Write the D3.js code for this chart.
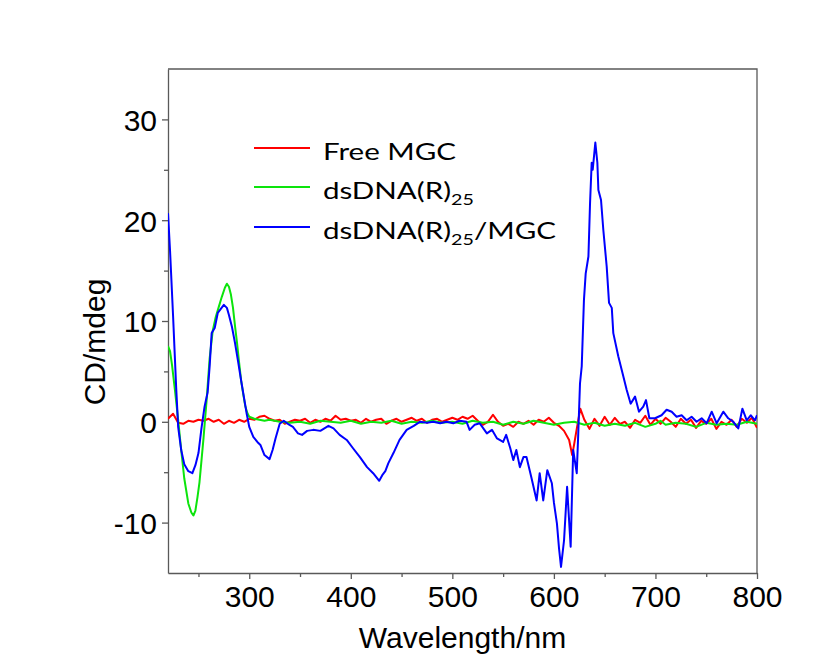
<!DOCTYPE html>
<html>
<head>
<meta charset="utf-8">
<script src="https://cdn.jsdelivr.net/npm/d3@7"></script>
<style>
  html, body { margin: 0; padding: 0; background: #fff; }
  svg { display: block; }
</style>
</head>
<body>
<svg id="chart"></svg>
<script>
// wavelength (nm) / CD (mdeg) pairs
var freeMGC = [
  [220,0.3],[225,0.8],[230,-0.1],[235,-0.2],[240,0.1],[245,0.0],[250,0.2],[255,0.1],[260,0.3],[265,0.0],
  [270,0.2],[275,-0.2],[280,0.1],[285,-0.1],[290,0.2],[295,0.0],[300,0.3],[305,0.2],[310,0.5],[315,0.6],
  [320,0.3],[325,0.1],[330,0.2],[335,-0.2],[340,0.0],[345,0.2],[350,0.1],[355,0.3],[360,-0.1],[365,0.2],
  [370,0.0],[375,0.3],[380,0.1],[385,0.6],[390,0.2],[395,0.3],[400,0.1],[405,0.2],[410,-0.1],[415,0.3],
  [420,0.0],[425,0.2],[430,0.3],[435,-0.2],[440,0.1],[445,0.3],[450,0.0],[455,0.2],[460,0.4],[465,0.1],
  [470,0.3],[475,-0.1],[480,0.2],[485,0.3],[490,0.0],[495,0.2],[500,0.4],[505,0.2],[510,0.5],[515,0.3],
  [520,0.6],[525,0.1],[530,-0.3],[535,0.0],[540,0.7],[545,0.0],[550,-0.4],[555,-0.2],[560,-0.5],[565,0.0],
  [570,-0.2],[575,0.1],[580,-0.3],[585,0.2],[590,0.0],[595,0.4],[600,-0.1],[605,-0.4],[610,-0.9],[615,-1.8],
  [618,-3.3],[620,-2.2],[623,-0.4],[626,1.3],[630,0.2],[635,-0.7],[640,0.3],[645,-0.4],[650,0.5],[655,-0.3],
  [660,0.4],[665,-0.2],[670,0.0],[675,-0.6],[680,0.2],[685,-0.1],[690,0.6],[695,-0.3],[700,0.3],[705,-0.2],
  [710,0.4],[715,0.0],[720,-0.5],[725,0.3],[730,-0.2],[735,0.2],[740,-0.6],[745,0.1],[750,-0.2],[755,0.3],
  [760,-0.7],[765,0.0],[770,-0.3],[775,0.2],[780,-0.5],[785,0.3],[790,-0.1],[795,0.4],[800,-0.6]
];

var dsDNA = [
  [220,7.5],[222,7.0],[224,5.6],[227,3.0],[230,0.2],[233,-2.8],[236,-5.6],[240,-8.1],[243,-9.0],[245,-9.3],
  [247,-8.8],[249,-7.5],[251,-6.0],[253,-3.8],[255,-1.6],[258,2.1],[261,6.3],[264,9.0],[267,10.4],[270,11.4],
  [273,12.4],[276,13.3],[278,13.7],[280,13.4],[282,12.6],[284,11.3],[286,9.5],[288,7.8],[290,5.9],[292,4.1],
  [294,2.8],[296,1.6],[298,0.9],[300,0.5],[305,0.3],[310,0.2],[315,0.1],[320,0.2],[330,0.0],[340,-0.1],
  [350,0.0],[360,-0.2],[370,0.1],[380,0.0],[390,-0.1],[400,0.1],[410,-0.2],[420,0.0],[430,-0.1],[440,0.1],
  [450,-0.2],[460,0.0],[470,-0.1],[480,0.1],[490,-0.1],[500,0.0],[510,-0.2],[520,0.1],[530,-0.1],[540,0.0],
  [550,-0.3],[560,0.0],[570,-0.2],[580,0.1],[590,-0.1],[600,-0.3],[610,-0.1],[620,0.0],[630,-0.3],[640,-0.1],
  [650,-0.4],[660,-0.2],[670,-0.4],[680,-0.1],[690,-0.5],[700,-0.2],[705,0.1],[710,-0.3],[720,-0.1],[730,-0.2],
  [740,-0.5],[750,-0.1],[760,-0.3],[770,-0.2],[780,-0.3],[790,0.0],[800,-0.2]
];

var dsDNA_MGC = [
  [220,20.7],[222,17.0],[225,10.5],[228,3.5],[230,-0.5],[233,-2.8],[236,-4.2],[240,-4.9],[244,-5.1],[247,-4.3],
  [250,-3.1],[253,-0.6],[256,1.5],[259,2.9],[261,5.5],[263,8.8],[266,9.3],[269,10.8],[272,11.2],[275,11.6],
  [278,11.3],[280,10.6],[283,9.4],[286,7.8],[289,6.0],[292,4.1],[295,2.3],[297.5,0.8],[300,-0.5],[304,-1.5],
  [308,-2.0],[311,-2.3],[315,-3.3],[320,-3.7],[323,-2.8],[326,-1.6],[330,-0.2],[334,0.1],[338,-0.2],[343,-0.5],
  [348,-1.15],[352,-1.3],[357,-0.9],[363,-0.8],[370,-0.9],[378,-0.4],[383,-0.65],[389,-1.3],[396,-1.8],[402,-2.6],
  [409,-3.5],[416,-4.5],[422,-5.1],[428,-5.85],[431,-5.3],[434,-4.9],[437,-4.1],[442,-3.1],[448,-1.8],[455,-0.8],
  [462,-0.4],[468,0.0],[475,-0.1],[481,0.0],[488,-0.15],[494,0.0],[501,-0.15],[507,0.1],[514,0.0],[517,-0.8],
  [522,-0.3],[527,-0.15],[534,-1.15],[539,-0.8],[544,-1.65],[550,-2.0],[553,-1.3],[557,-2.6],[560,-3.8],[563,-2.8],
  [566.5,-4.5],[570,-3.5],[573,-3.5],[578,-5.6],[583,-7.8],[586,-5.1],[589.5,-7.8],[593.5,-4.8],[598,-6.1],[600,-8.0],
  [603,-10.1],[605,-12.5],[607,-14.4],[610,-11.75],[613,-6.45],[616.5,-12.4],[619,-2.8],[622.5,-5.1],[624,-1.15],[625.7,3.8],
  [627.4,5.5],[629.6,12.1],[631.3,14.7],[634,16.4],[635.6,21.7],[637.2,25.7],[638.2,25.0],[640.8,27.7],[642.8,25.7],[643.8,23.0],
  [646.4,22.0],[648.7,19.0],[652,15.4],[654.3,11.8],[657,11.3],[658.5,8.8],[663.4,6.5],[668.4,4.5],[671.7,3.15],[675.6,1.8],
  [679.9,2.5],[683.8,1.0],[688,1.5],[690.7,2.15],[694,0.35],[699.6,0.35],[706,0.65],[711,1.2],[716,1.0],[720.8,0.5],
  [725.8,0.65],[730.7,0.15],[735.6,0.5],[740.5,0.0],[745.5,0.35],[750.4,-0.15],[755.4,1.0],[760.3,-0.15],[766.8,1.0],[771.7,0.35],
  [776.7,0.0],[781.6,-0.65],[785.6,1.3],[789.9,0.15],[793.8,0.65],[798,0.15],[800,0.65]
];

var xTicks = [300, 400, 500, 600, 700, 800];
var yTicks = [-10, 0, 10, 20, 30];
var seriesNames = ["Free MGC", "dsDNA(R)", "dsDNA(R)"];
var seriesColors = ["#ff0000", "#0ce40c", "#0000ff"];

var width = 833, height = 671;
var margin = {left: 168, right: 76, top: 69, bottom: 98};
var fontAxis = "'Liberation Sans', Arial, sans-serif";

var svg = d3.select("#chart").attr("width", width).attr("height", height);
svg.append("rect").attr("width", width).attr("height", height).attr("fill", "#fff");

var x = d3.scaleLinear().domain([220, 800]).range([margin.left, width - margin.right]);
var y = d3.scaleLinear().domain([-15, 35]).range([height - margin.bottom, margin.top]);

svg.append("defs").append("clipPath").attr("id", "clip")
  .append("rect")
  .attr("x", margin.left).attr("y", margin.top)
  .attr("width", x.range()[1] - margin.left)
  .attr("height", y.range()[0] - margin.top);

var axisColor = "#595959";

// frame (top + right)
svg.append("path")
  .attr("d", "M" + margin.left + "," + margin.top + "H" + x.range()[1] + "V" + y.range()[0])
  .attr("fill", "none").attr("stroke", axisColor).attr("stroke-width", 1.3);

// minor ticks
var xMinor = svg.append("g").attr("transform", "translate(0," + y.range()[0] + ")")
  .call(d3.axisBottom(x).tickValues([250, 350, 450, 550, 650, 750]).tickSize(4).tickFormat(""));
var yMinor = svg.append("g").attr("transform", "translate(" + margin.left + ",0)")
  .call(d3.axisLeft(y).tickValues([-5, 5, 15, 25]).tickSize(4).tickFormat(""));
[xMinor, yMinor].forEach(function(g) {
  g.select(".domain").remove();
  g.selectAll("line").attr("stroke", axisColor).attr("stroke-width", 1.3);
});

var fmt = function(d) { return String(d); };
var xAxis = svg.append("g").attr("transform", "translate(0," + y.range()[0] + ")")
  .call(d3.axisBottom(x).tickValues(xTicks).tickFormat(fmt).tickSize(6).tickSizeOuter(0).tickPadding(7));
var yAxis = svg.append("g").attr("transform", "translate(" + margin.left + ",0)")
  .call(d3.axisLeft(y).tickValues(yTicks).tickFormat(fmt).tickSize(6).tickSizeOuter(0).tickPadding(5));
[xAxis, yAxis].forEach(function(g) {
  g.select(".domain").attr("stroke", axisColor).attr("stroke-width", 1.3);
  g.selectAll("line").attr("stroke", axisColor).attr("stroke-width", 1.3);
  g.selectAll("text")
    .attr("fill", "#000")
    .style("font-family", fontAxis)
    .style("font-size", "30px");
});
xAxis.selectAll("text").attr("dy", "0.71em");
yAxis.selectAll("text").attr("dy", "0.36em");

// axis titles
svg.append("text")
  .attr("x", (x.range()[0] + x.range()[1]) / 2).attr("y", 648)
  .attr("text-anchor", "middle")
  .style("font-family", fontAxis)
  .style("font-size", "30px")
  .text("Wavelength/nm");

svg.append("text")
  .attr("transform", "translate(104.5,342) rotate(-90)")
  .attr("text-anchor", "middle")
  .style("font-family", fontAxis)
  .style("font-size", "30px")
  .text("CD/mdeg");

// curves
var line = d3.line().x(function(d) { return x(d[0]); }).y(function(d) { return y(d[1]); });
var plot = svg.append("g").attr("clip-path", "url(#clip)");
[freeMGC, dsDNA, dsDNA_MGC].forEach(function(s, i) {
  plot.append("path")
    .datum(s)
    .attr("d", line)
    .attr("fill", "none")
    .attr("stroke", seriesColors[i])
    .attr("stroke-width", 2)
    .attr("stroke-linejoin", "round");
});

// legend
var legend = svg.append("g");
var legY = [148, 187, 227];
seriesNames.forEach(function(name, i) {
  legend.append("line")
    .attr("x1", 254).attr("x2", 310)
    .attr("y1", legY[i]).attr("y2", legY[i])
    .attr("stroke", seriesColors[i]).attr("stroke-width", 2);
  var t = legend.append("text")
    .attr("class", "leg")
    .attr("x", 0).attr("y", 0)
    .style("font-family", "Lato, 'Open Sans', sans-serif")
    .style("font-size", "24px")
    .attr("fill", "#000");
  t.append("tspan").text(name);
  if (i > 0) {
    t.append("tspan").attr("dy", 6).style("font-size", "16px").text("25");
    if (i === 2) t.append("tspan").attr("dy", -6).text("/MGC");
  }
});
// stretch legend text horizontally to the width seen in the figure
var freeW = legend.select("text.leg").node().getComputedTextLength();
var sx = 133 / freeW;
legend.selectAll("text.leg").each(function(d, i) {
  d3.select(this).attr("transform", "translate(323," + (legY[i] + 12) + ") scale(" + sx + ",1)");
});
</script>
</body>
</html>
